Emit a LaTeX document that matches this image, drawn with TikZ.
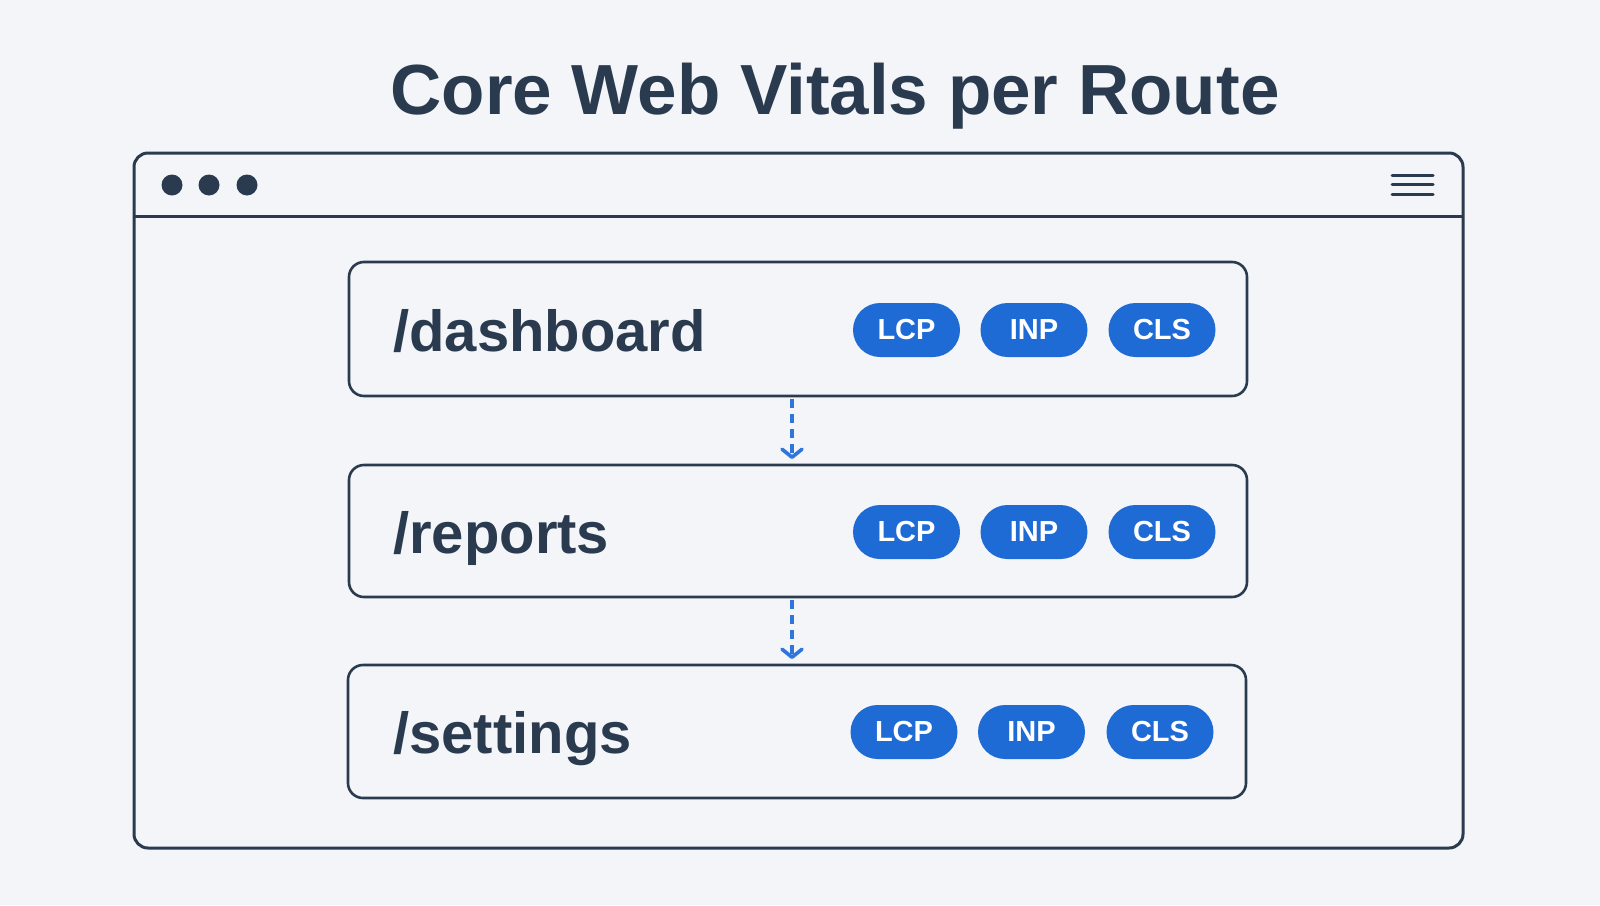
\documentclass[tikz,border=0pt]{standalone}
\usepackage{fontspec}
\setmainfont{Liberation Sans}
\usetikzlibrary{arrows.meta,calc}
\definecolor{navy}{HTML}{2B3B4F}
\definecolor{pillblue}{HTML}{1F6BD6}
\definecolor{arrowblue}{HTML}{2F75DB}
\definecolor{bg}{HTML}{F3F5F8}
\tikzset{
  routebox/.style={draw=navy, line width=2.6pt, rounded corners=15pt, minimum width=898pt, inner sep=0pt, outer sep=0pt},
  routelabel/.style={anchor=base west, text=navy, font=\fontsize{58}{60}\selectfont\bfseries, inner sep=0pt},
  pill/.style={fill=pillblue, rounded corners=27pt, minimum width=107pt, minimum height=54pt, inner sep=0pt, text=white, font=\fontsize{29}{30}\selectfont\bfseries},
  flow/.style={draw=arrowblue, line width=3.6pt, dash pattern=on 9pt off 6pt, -{Straight Barb[length=8pt,width=20pt,line width=3.6pt,line cap=round,line join=round]}},
  frame/.style={draw=navy, line width=3pt},
}
\begin{document}
\begin{tikzpicture}[x=1pt,y=-1pt]
\fill[bg] (0,0) rectangle (1600,905);
\useasboundingbox (0,0) rectangle (1600,905);
% title
\node[anchor=base, text=navy, font=\fontsize{71}{74}\selectfont\bfseries, inner sep=0pt] (title) at (835,114) {Core Web Vitals per Route};
% browser window
\draw[frame, rounded corners=14pt] (134,153) rectangle (1463,848);
\coordinate (hl) at (134,216);
\coordinate (hr) at (1463,216);
\draw[frame] (hl) -- (hr);
\foreach \x/\n in {172/d1,209/d2,247/d3}
  \fill[navy] (\x,185) circle (10.5) coordinate (\n);
\foreach \y/\n in {175/m1,184.5/m2,194/m3}{
  \coordinate (\n a) at (1392,\y);
  \coordinate (\n b) at (1433,\y);
  \draw[frame, line cap=round] (\n a) -- (\n b);
}
% route boxes
\node[routebox, minimum height=134pt] (b1) at (798,329) {};
\node[routebox, minimum height=132pt] (b2) at (798,531) {};
\node[routebox, minimum height=133pt] (b3) at (797,731.5) {};
% labels
\node[routelabel] (l1) at (393,351) {/dashboard};
\node[routelabel] (l2) at (393,553) {/reports};
\node[routelabel] (l3) at (393,753) {/settings};
% pills
\node[pill] (p1a) at (906.5,330) {LCP};
\node[pill] (p1b) at (1034,330) {INP};
\node[pill] (p1c) at (1162,330) {CLS};
\node[pill] (p2a) at (906.5,532) {LCP};
\node[pill] (p2b) at (1034,532) {INP};
\node[pill] (p2c) at (1162,532) {CLS};
\node[pill] (p3a) at (904,732) {LCP};
\node[pill] (p3b) at (1031.5,732) {INP};
\node[pill] (p3c) at (1160,732) {CLS};
% connectors
\draw[flow, shorten <=3pt, shorten >=6pt] ([xshift=-6pt]b1.south) -- ([xshift=-6pt]b2.north);
\draw[flow, shorten <=3pt, shorten >=6pt] ([xshift=-6pt]b2.south) -- ([xshift=-5pt]b3.north);
\end{tikzpicture}
\end{document}
